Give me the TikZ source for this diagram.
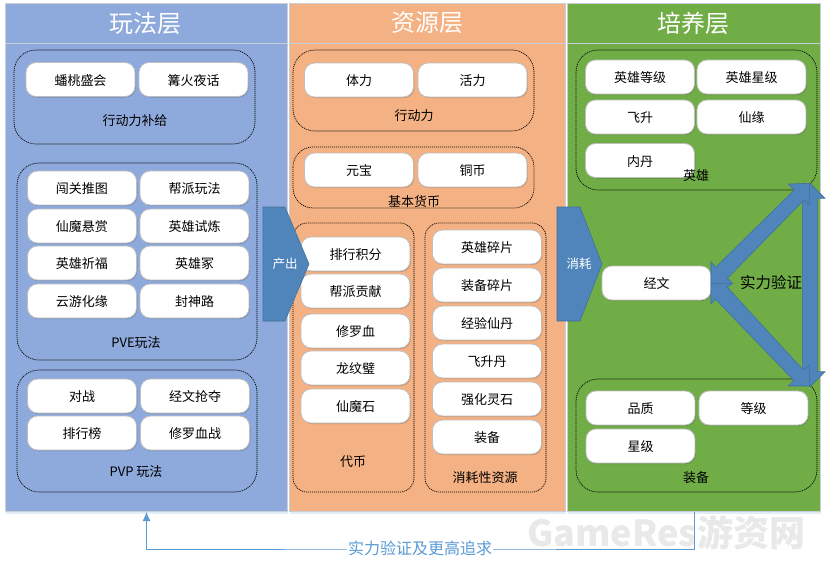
\documentclass[tikz,border=0pt]{standalone}
\usepackage{fontspec}
\setmainfont{Noto Sans CJK SC}
\usetikzlibrary{arrows.meta,shadows,calc}
\definecolor{pblue}{HTML}{8EA9DB}
\definecolor{porange}{HTML}{F4B183}
\definecolor{pgreen}{HTML}{70AD47}
\definecolor{pedge}{HTML}{C9CFD8}
\definecolor{barrow}{HTML}{4F85BA}
\definecolor{barrowedge}{HTML}{41719C}
\definecolor{clink}{HTML}{5B9BD5}
\definecolor{boxedge}{HTML}{BFBFBF}
\definecolor{wmark}{HTML}{E9E9E9}
\tikzset{
  panel/.style={draw=pedge,line width=1pt,inner sep=0pt,anchor=north west,
    drop shadow={shadow xshift=0pt,shadow yshift=-2pt,fill=clink,opacity=.18}},
  headtext/.style={text=white,font=\fontsize{24}{24}\selectfont},
  headbox/.style={draw=pedge,line width=1pt,inner sep=0pt,anchor=north west,minimum height=40pt},
  cont/.style={draw=black,line width=.7pt,dash pattern=on 1.1pt off .9pt},
  wbox/.style={draw=boxedge,line width=.8pt,fill=white,rounded corners=10pt,minimum width=109pt,
    minimum height=34pt,inner sep=0pt,font=\fontsize{13}{13}\selectfont,text height=11.5pt,text depth=.5pt,
    drop shadow={shadow xshift=.8pt,shadow yshift=-1pt,fill=black,opacity=.18}},
  lab/.style={font=\fontsize{13}{13}\selectfont,inner sep=0pt,text height=11.5pt,text depth=.5pt},
  barr/.style={fill=barrow,draw=barrowedge,line width=.6pt,line join=miter},
  barrtext/.style={text=white,font=\fontsize{12.5}{13}\selectfont,inner sep=0pt},
  conn/.style={draw=clink,line width=.9pt,-{Latex[length=9pt,width=8pt]}},
}
\begin{document}
\begin{tikzpicture}[x=1pt,y=-1pt]
\useasboundingbox (0,0) rectangle (831,566);
\fill[white] (0,0) rectangle (831,566);
% panels
\node[panel,fill=pblue,minimum width=282pt,minimum height=508pt] (bluep) at (5,3) {};
\node[panel,fill=porange,minimum width=276pt,minimum height=508pt] (orangep) at (289,3) {};
\node[panel,fill=pgreen,minimum width=253pt,minimum height=508pt] (greenp) at (567,3) {};
\node[headbox,fill=pblue,minimum width=282pt] (hblue) at (5,3) {};
\node[headbox,fill=porange,minimum width=276pt] (horange) at (289,3) {};
\node[headbox,fill=pgreen,minimum width=253pt] (hgreen) at (567,3) {};
\node[headtext] (tblue) at (145,23) {玩法层};
\node[headtext] (torange) at (427,23) {资源层};
\node[headtext] (tgreen) at (693,23) {培养层};
% dashed groups
\draw[cont,rounded corners=22pt] (14,50) rectangle (255,144);
\draw[cont,rounded corners=22pt] (17,163) rectangle (257,360);
\draw[cont,rounded corners=22pt] (17,370) rectangle (257,492);
\draw[cont,rounded corners=22pt] (293,50) rectangle (534,131);
\draw[cont,rounded corners=20pt] (293,147) rectangle (534,208);
\draw[cont,rounded corners=14pt] (293,223) rectangle (414,492);
\draw[cont,rounded corners=14pt] (425,223) rectangle (546,492);
\draw[cont,rounded corners=22pt] (576,50) rectangle (817,190);
\draw[cont,rounded corners=22pt] (576,379) rectangle (817,492);
% play layer
\node[wbox] (b1) at (80.5,79.5) {蟠桃盛会};
\node[wbox] (b2) at (193.5,79.5) {篝火夜话};
\node[wbox] (b3) at (82,188) {闯关推图};
\node[wbox] (b4) at (194.5,188) {帮派玩法};
\node[wbox] (b5) at (82,226) {仙魔悬赏};
\node[wbox] (b6) at (194.5,226) {英雄试炼};
\node[wbox] (b7) at (82,263) {英雄祈福};
\node[wbox] (b8) at (194.5,263) {英雄冢};
\node[wbox] (b9) at (82,301) {云游化缘};
\node[wbox] (b10) at (194.5,301) {封神路};
\node[wbox] (b11) at (82,396) {对战};
\node[wbox] (b12) at (195,396) {经文抢夺};
\node[wbox] (b13) at (82,433) {排行榜};
\node[wbox] (b14) at (195,433) {修罗血战};
\node[lab] (l1) at (135,120) {行动力补给};
\node[lab] (l2) at (136,342) {PVE玩法};
\node[lab] (l3) at (136,471) {PVP 玩法};
% resource layer
\node[wbox] (r1) at (359,80) {体力};
\node[wbox] (r2) at (472.5,80) {活力};
\node[wbox] (r3) at (359,170) {元宝};
\node[wbox] (r4) at (472.5,170) {铜币};
\node[wbox] (r5) at (355.5,254) {排行积分};
\node[wbox] (r6) at (355.5,291) {帮派贡献};
\node[wbox] (r7) at (355.5,331) {修罗血};
\node[wbox] (r8) at (355.5,368) {龙纹璧};
\node[wbox] (r9) at (355.5,406) {仙魔石};
\node[wbox] (r10) at (487,247) {英雄碎片};
\node[wbox] (r11) at (487,285) {装备碎片};
\node[wbox] (r12) at (487,323) {经验仙丹};
\node[wbox] (r13) at (487,361) {飞升丹};
\node[wbox] (r14) at (487,399) {强化灵石};
\node[wbox] (r15) at (487,437) {装备};
\node[lab] (l4) at (414,115) {行动力};
\node[lab] (l5) at (414,201) {基本货币};
\node[lab] (l6) at (353,461) {代币};
\node[lab] (l7) at (485,477) {消耗性资源};
% growth layer
\node[wbox] (g1) at (640,77) {英雄等级};
\node[wbox] (g2) at (751.5,77) {英雄星级};
\node[wbox] (g3) at (640,117) {飞升};
\node[wbox] (g4) at (751.5,117) {仙缘};
\node[wbox] (g5) at (640,160.5) {内丹};
\node[lab] (l8) at (696,175) {英雄};
\node[wbox] (g6) at (656.5,283) {经文};
\node[wbox] (g7) at (640.5,408) {品质};
\node[wbox] (g8) at (753.5,408) {等级};
\node[wbox] (g9) at (640.5,446) {星级};
\node[lab] (l9) at (696,477) {装备};
% block arrows
\draw[barr] (263,207) -- (285,207) -- (309,264) -- (285,321) -- (263,321) -- cycle;
\node[barrtext] (tc) at (285,264) {产出};
\draw[barr] (557,207) -- (580,207) -- (602,264) -- (580,321) -- (557,321) -- cycle;
\node[barrtext] (tx) at (579,264) {消耗};
% three double arrows (vertical first, diagonals above it)
\begin{scope}[shift={(540,170)},x=.3333pt,y=-.3333pt]
\draw[barr] (810,40) -- (855,85) -- (832,85) -- (832,605) -- (855,605) -- (810,650) -- (765,605) -- (787,605) -- (787,85) -- (765,85) -- cycle;
\draw[barr] (513,340) -- (513,275) -- (527,292) -- (763,60) -- (745,42) -- (808,40) -- (808,103) -- (792,90) -- (562,325) -- (578,340) -- cycle;
\draw[barr] (513,340) -- (513,402) -- (527,388) -- (762,632) -- (745,648) -- (808,648) -- (808,585) -- (790,600) -- (562,352) -- (578,340) -- cycle;
\end{scope}
\node[inner sep=0pt,font=\fontsize{15.5}{15}\selectfont] (tv) at (771,283) {实力验证};
% watermark
\node[inner sep=0pt,text=wmark,font=\fontsize{36}{36}\selectfont\bfseries] (wm) at (666,533) {GameRes游资网};
% feedback connector
\coordinate (low) at (420,549);
\draw[conn] (greenp.south) |- (low) -| (bluep.south);
\node[fill=white,inner sep=1pt,text=clink,font=\fontsize{16}{16}\selectfont] (fb) at (420,548) {实力验证及更高追求};
\end{tikzpicture}
\end{document}
